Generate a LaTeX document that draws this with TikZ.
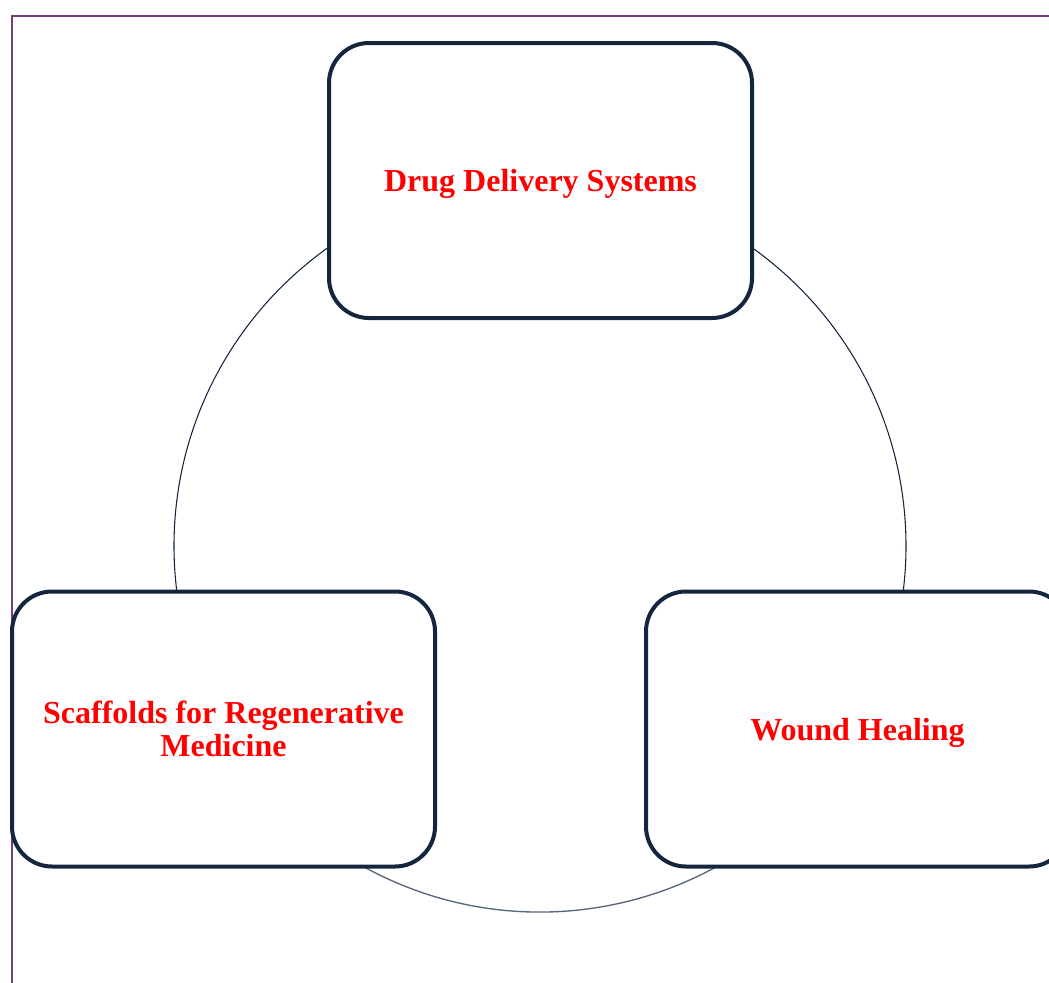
\documentclass[tikz,border=0pt]{standalone}
\usepackage{fontspec}
\setmainfont{Liberation Serif}
\definecolor{navy}{HTML}{13263D}
\definecolor{arcgray}{HTML}{56657A}
\definecolor{framepurple}{HTML}{7A3B7C}
\begin{document}
\begin{tikzpicture}[x=0.75pt,y=-0.75pt,
  topic/.style={draw=navy,line width=3pt,fill=white,rounded corners=30pt,
    minimum width=423*0.75pt,minimum height=275*0.75pt,align=center,
    text=red,font=\bfseries\fontsize{24}{25}\selectfont,inner sep=0pt,text depth=0pt},
  ring/.style={draw=navy,line width=0.8pt},
  ringlow/.style={draw=arcgray,line width=1pt}]
\useasboundingbox (0,0) rectangle (1049,982);
\draw[framepurple,line width=1.5pt] (12,1100) -- (12,16) -- (1100,16);
\coordinate (c) at (540,546);
\draw[ring] (c) ++(180:366) arc[start angle=180,end angle=270,radius=366];
\draw[ring] (c) ++(270:366) arc[start angle=270,end angle=360,radius=366];
\draw[ringlow] (c) ++(30:366) arc[start angle=30,end angle=150,radius=366];
\draw[ring] (c) ++(0:366) arc[start angle=0,end angle=30,radius=366];
\draw[ring] (c) ++(150:366) arc[start angle=150,end angle=180,radius=366];
\node[topic] (drug) at (540.5,180.5) {Drug Delivery Systems};
\node[topic] (scaf) at (223.5,729) {Scaffolds for Regenerative\\Medicine};
\node[topic] (wound) at (857.5,729) {Wound Healing};
\end{tikzpicture}
\end{document}
